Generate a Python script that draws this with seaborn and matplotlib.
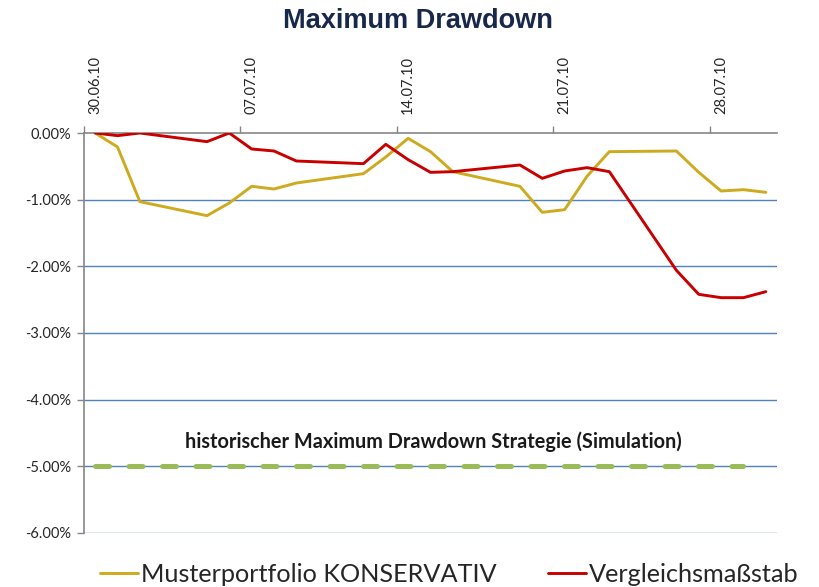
import pandas as pd
import matplotlib.pyplot as plt
import matplotlib.ticker as mticker
import seaborn as sns

# --- DATA ---
dates = ['30.06.10', '01.07.10', '02.07.10', '05.07.10', '06.07.10', '07.07.10',
         '08.07.10', '09.07.10', '12.07.10', '13.07.10', '14.07.10', '15.07.10',
         '16.07.10', '19.07.10', '20.07.10', '21.07.10', '22.07.10', '23.07.10',
         '26.07.10', '27.07.10', '28.07.10', '29.07.10', '30.07.10']
muster = [0.00, -0.21, -1.03, -1.24, -1.05, -0.80, -0.84, -0.75, -0.61, -0.36, -0.08, -0.28,
          -0.58, -0.80, -1.19, -1.15, -0.65, -0.28, -0.27, -0.59, -0.87, -0.85, -0.89]
vergleich = [0.00, -0.04, 0.00, -0.13, 0.00, -0.24, -0.27, -0.42, -0.46, -0.17, -0.40, -0.59,
             -0.58, -0.48, -0.68, -0.57, -0.52, -0.58, -2.06, -2.42, -2.47, -2.47, -2.38]
strategie_mdd = -5.0
series_names = ['Musterportfolio KONSERVATIV', 'Vergleichsmaßstab']
tick_dates = ['30.06.10', '07.07.10', '14.07.10', '21.07.10', '28.07.10']
y_ticks = [0, -1, -2, -3, -4, -5, -6]

# --- PREPARATION ---
dt = pd.to_datetime(dates, format='%d.%m.%y')
start = dt[0]
day = (dt - start).days
df = pd.concat([
    pd.DataFrame({'day': day, 'value': muster, 'series': series_names[0]}),
    pd.DataFrame({'day': day, 'value': vergleich, 'series': series_names[1]}),
], ignore_index=True)
df_strat = pd.DataFrame({'day': day[:-1], 'value': strategie_mdd})
tick_days = (pd.to_datetime(tick_dates, format='%d.%m.%y') - start).days

sns.set_theme(style="white")
plt.rcParams['font.family'] = ['Lato', 'DejaVu Sans']

fig = plt.figure(figsize=(8.19, 5.87), dpi=100)
ax = fig.add_axes([84 / 819, 1 - 533 / 587, (777 - 84) / 819, 400 / 587])

# horizontal grid (blue)
for v in y_ticks[1:]:
    ax.axhline(v, color='#4F81BD', lw=1.0, zorder=1)

# simulated historical max drawdown of the strategy
sns.lineplot(data=df_strat, x='day', y='value', color='#9BBB59', lw=3.6,
             dashes=False, ax=ax, legend=False, zorder=2)
ax.lines[-1].set_dashes((2.8, 3.9))
ax.lines[-1].set_dash_capstyle('round')

sns.lineplot(data=df, x='day', y='value', hue='series',
             palette=['#CDAA1E', '#C80000'], lw=2.1, ax=ax, zorder=3)
handles, labels = ax.get_legend_handles_labels()
ax.get_legend().remove()

ax.set_xlim(-0.5, day[-1] + 0.5)
ax.set_ylim(-6, 0)

# x axis on top, labels centred on day, ticks on day boundaries
ax.xaxis.tick_top()
ax.set_xticks(tick_days)
ax.set_xticklabels(tick_dates, rotation=90, fontsize=10.5)
ax.set_xticks([d - 0.5 for d in tick_days], minor=True)
ax.tick_params(axis='x', which='major', length=0, pad=14, top=True, bottom=False)
ax.tick_params(axis='x', which='minor', length=5, width=1, color='#868686', top=True, bottom=False)
ax.set_xlabel('')

ax.set_yticks(y_ticks)
ax.yaxis.set_major_formatter(mticker.FuncFormatter(lambda v, p: f'{v:.2f}%'))
ax.tick_params(axis='y', left=True, length=5, width=1, color='#868686', labelsize=10.5, pad=4)
ax.set_ylabel('')

for s in ['right', 'bottom']:
    ax.spines[s].set_visible(False)
for s in ['left', 'top']:
    ax.spines[s].set_color('#868686')
    ax.spines[s].set_linewidth(1.2)
ax.spines['top'].set_zorder(0)

ax.annotate('historischer Maximum Drawdown Strategie (Simulation)',
            xy=(433 / 819, 1 - 442 / 587), xycoords='figure fraction',
            ha='center', va='center', fontsize=14.3, fontweight='bold', color='#1a1a1a')

fig.text(418 / 819, 1 - 21 / 587, 'Maximum Drawdown', ha='center', va='center',
         fontsize=19.5, fontweight='bold', color='#17284A', family='Liberation Sans')

fig.legend(handles, labels, loc='center left', bbox_to_anchor=(100 / 819, 13 / 587),
           ncol=2, frameon=False, fontsize=18.2, handlelength=1.5, handletextpad=0.12,
           columnspacing=2.05, borderpad=0, borderaxespad=0)

fig.savefig('out.png', dpi=100)
